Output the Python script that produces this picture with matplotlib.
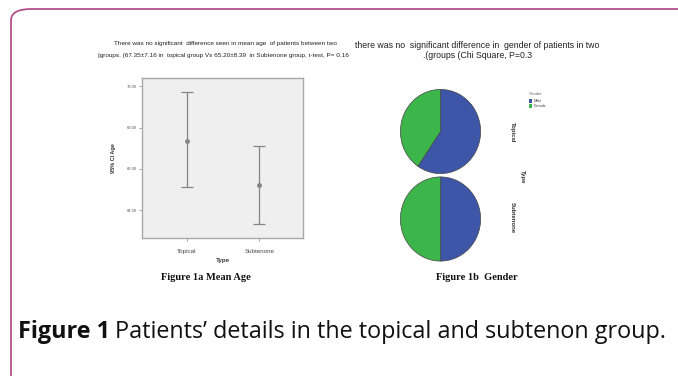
import matplotlib.pyplot as plt
from matplotlib.patches import FancyBboxPatch

W, H = 678, 376

# mean age with 95% CI per group
groups = ["Topical", "Subtenone"]
mean_age = [67.35, 65.20]
ci_low = [65.10, 63.35]
ci_high = [69.70, 67.10]
age_ticks = [64, 66, 68, 70]

# gender counts per group
genders = ["Male", "Female"]
topical_gender = [25, 17]
subtenone_gender = [20, 20]

BLUE = "#3e56a8"
GREEN = "#3cb54a"
BORDER = "#b3508a"
SANS = "Liberation Sans"
SERIF = "Liberation Serif"


def box(x0, y0, x1, y1):
    # pixel box (top-left origin) -> figure fraction rect
    return [x0 / W, 1 - y1 / H, (x1 - x0) / W, (y1 - y0) / H]


def px(x, y):
    return x / W, 1 - y / H


fig = plt.figure(figsize=(W / 100, H / 100), dpi=100)
fig.patch.set_facecolor("white")

frame = FancyBboxPatch(px(11, 420), 720 / W, 411 / H,
                       boxstyle="round,pad=0,rounding_size=0.03",
                       transform=fig.transFigure, facecolor="none",
                       edgecolor=BORDER, linewidth=1.3, clip_on=False)
fig.patches.append(frame)

# left panel: mean age error bars
ax = fig.add_axes(box(142, 78, 303, 238))
ax.set_facecolor("#efefef")
x = [1, 2]
lower = [m - lo for m, lo in zip(mean_age, ci_low)]
upper = [hi - m for m, hi in zip(mean_age, ci_high)]
ax.errorbar(x, mean_age, yerr=[lower, upper], fmt="o", color="#858585",
            ecolor="#858585", elinewidth=0.9, capsize=4, capthick=0.9,
            markersize=2.5)
ax.set_xlim(0.385, 2.6)
ax.set_ylim(62.65, 70.4)
ax.set_yticks(age_ticks)
ax.set_yticklabels([f"{t:.2f}" for t in age_ticks], fontsize=3, color="#555555",
                   family=SANS)
ax.set_xticks(x)
ax.set_xticklabels(groups, fontsize=4.5, color="#444444", family=SANS)
ax.tick_params(length=2, width=0.5, color="#777777", pad=1.5)
ax.tick_params(axis="x", pad=6)
for s in ax.spines.values():
    s.set_color("#a8a8a8")
    s.set_linewidth(1.0)
ax.set_xlabel("Type", fontsize=4.5, fontweight="bold", color="#333333",
              family=SANS, labelpad=3)
ax.set_ylabel("95% CI Age", fontsize=4, fontweight="bold", color="#333333",
              family=SANS, labelpad=8)

fig.text(*px(225, 44), "There was no significant  difference seen in mean age  of patients between two",
         ha="center", va="center", fontsize=4.6, family=SANS, color="#222222")
fig.text(*px(223, 55), "|groups. (67.35\u00b17.16 in  topical group Vs 65.20\u00b18.39  in Subtenone group, t-test, P= 0.16",
         ha="center", va="center", fontsize=4.6, family=SANS, color="#222222")
fig.text(*px(206, 278), "Figure 1a Mean Age", ha="center", va="center",
         fontsize=7.5, fontweight="bold", family=SERIF, color="#111111")

# right panel: gender pies
for counts, cy in [(topical_gender, 131.5), (subtenone_gender, 219)]:
    pax = fig.add_axes(box(400, cy - 42.5, 481, cy + 42.5))
    pax.pie(counts, colors=[BLUE, GREEN], startangle=90, counterclock=False,
            wedgeprops=dict(edgecolor="#444444", linewidth=0.5))
    pax.set_aspect("auto")
    pax.set_xlim(-1.01, 1.01)
    pax.set_ylim(-1.01, 1.01)

fig.text(*px(512, 132), "Topical", rotation=-90, ha="center", va="center",
         fontsize=4.3, fontweight="bold", family=SANS, color="#333333")
fig.text(*px(522, 177), "Type", rotation=-90, ha="center", va="center",
         fontsize=4.3, fontweight="bold", family=SANS, color="#333333")
fig.text(*px(512, 218), "Subtenone", rotation=-90, ha="center", va="center",
         fontsize=4.3, fontweight="bold", family=SANS, color="#333333")

# legend
fig.text(*px(529, 94), "Gender", ha="left", va="center", fontsize=3,
         family=SANS, color="#666666")
for i, (g, c) in enumerate(zip(genders, [BLUE, GREEN])):
    y = 101 + 5 * i
    fig.patches.append(plt.Rectangle(px(529, y + 2), 3 / W, 4 / H,
                                     transform=fig.transFigure, facecolor=c,
                                     edgecolor="none"))
    fig.text(*px(533.5, y), g, ha="left", va="center", fontsize=2.8,
             family=SANS, color="#444444")

fig.text(*px(477, 45), "there was no  significant difference in  gender of patients in two",
         ha="center", va="center", fontsize=6.3, family=SANS, color="#222222")
fig.text(*px(478, 56), ".(groups (Chi Square, P=0.3",
         ha="center", va="center", fontsize=6.3, family=SANS, color="#222222")
fig.text(*px(477, 278), "Figure 1b  Gender", ha="center", va="center",
         fontsize=7.5, fontweight="bold", family=SERIF, color="#111111")

# caption
cap = fig.text(*px(18, 332), "Figure 1", ha="left", va="center", fontsize=16.8,
               fontweight="bold", family="Open Sans", color="#111111")
fig.canvas.draw()
bb = cap.get_window_extent()
fig.text(bb.x1 / W + 5 / W, 1 - 332 / H,
         "Patients\u2019 details in the topical and subtenon group.",
         ha="left", va="center", fontsize=16.8, family="Open Sans", color="#111111")

fig.savefig("out.png", dpi=100)
